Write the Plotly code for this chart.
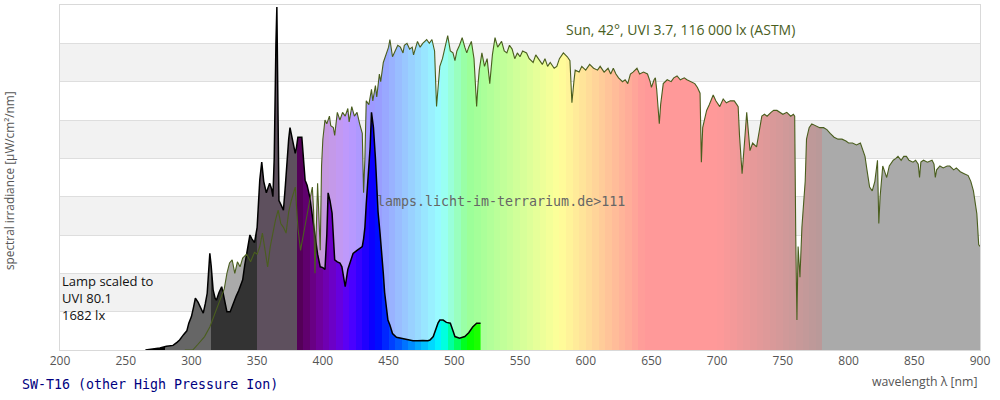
import plotly.graph_objects as go

# ---------------- data (values in band units, 9 bands = full height) ----------------
sun_nm = [295, 301, 305, 310, 314, 318, 322, 325, 327, 329, 331, 333, 335, 337, 339, 342, 345, 348, 350, 352,
          354, 356, 358, 360, 362, 364, 366, 368, 370, 372, 374, 376, 379, 381, 383, 386, 388, 390, 392, 393,
          394, 396, 398, 399, 400, 401.6, 403, 405, 406, 408, 409, 411, 413, 415, 417, 419, 420, 422, 424, 426,
          428, 430, 431, 432, 433, 435, 437, 438, 440, 441, 443, 444, 446, 448, 450, 451, 453, 455, 457, 459,
          461, 462, 464, 466, 468, 469, 471, 472, 474, 476, 479, 481, 483, 485, 486.5, 488, 489, 491, 493, 495,
          497, 499, 500.5, 502, 504, 506, 508, 509.5, 511, 513, 515, 517, 518, 519, 521, 523, 525, 527, 529, 531,
          533, 536, 538, 540, 542, 544, 546, 548, 550, 552, 555, 557, 560, 562, 565, 567, 569, 571, 573, 576,
          578, 580, 583, 586, 588, 589.5, 591, 592, 595, 597, 600, 603, 606, 609, 611, 614, 617, 619, 621, 623,
          625, 628, 630, 632, 634, 636, 639, 641, 644, 647, 649, 650, 652, 653, 654, 656, 657, 659, 662, 665,
          667, 669.5, 672, 675, 677, 680, 683, 685, 687, 688, 689, 690, 692, 694, 697, 699, 702, 704.6, 707, 710,
          713, 715, 716, 717, 719, 721, 722.5, 724, 725, 727, 730, 732, 734, 736, 738, 741, 743, 745.5, 748, 750,
          753, 756, 758, 759, 759.8, 760.7, 761.6, 763, 764.5, 765.5, 767, 768, 770, 772, 775, 778, 781, 783.5, 786, 789,
          792, 795, 798, 800, 803, 806, 809, 811, 812.5, 814, 816, 818, 820, 822, 823, 824, 826, 828, 829, 831,
          834, 836, 837.6, 840, 842, 844, 846, 849, 851, 853, 854, 855, 857, 860, 863.5, 865, 866, 867, 869.5, 872,
          875, 877, 880, 882, 885, 888, 891, 893, 895, 897.6, 899, 900]
sun_val = [0, 0, 0.15, 0.35, 0.6, 0.95, 1.3, 1.6, 2.0, 2.27, 2.35, 2.0, 2.3, 2.17, 2.4, 2.5, 2.3, 2.55, 2.5, 2.7,
           3.05, 2.6, 2.17, 2.7, 3.05, 3.4, 3.65, 3.3, 3.2, 3.05, 3.6, 3.9, 4.25, 3.2, 2.6, 3.2, 3.5, 3.9, 4.25, 3.6,
           2.0, 4.35, 2.6, 4.8, 5.5, 6.0, 5.9, 6.1, 5.85, 5.8, 5.6, 6.2, 6.0, 6.2, 6.1, 6.3, 5.95, 6.35, 6.1, 6.2,
           5.9, 5.65, 4.1, 5.0, 6.5, 6.4, 6.8, 6.5, 6.9, 6.6, 7.2, 7.0, 7.5, 7.7, 7.9, 8.1, 7.65, 7.8, 7.95, 7.9,
           7.75, 7.95, 8.0, 7.85, 7.9, 7.7, 7.95, 8.05, 7.9, 8.0, 8.1, 8.0, 8.1, 7.8, 6.35, 6.9, 7.4, 7.6, 7.9, 8.2,
           7.8, 7.75, 7.55, 7.8, 7.95, 8.15, 7.9, 7.75, 7.9, 8.05, 7.6, 6.35, 6.9, 7.3, 7.75, 7.4, 7.6, 6.95, 7.7, 8.15,
           7.9, 8.05, 7.8, 7.75, 7.95, 7.85, 7.6, 7.75, 7.65, 7.8, 7.75, 7.6, 7.5, 7.7, 7.55, 7.45, 7.6, 7.4, 7.5, 7.35,
           7.4, 7.6, 7.75, 7.65, 7.55, 6.45, 7.0, 7.3, 7.25, 7.4, 7.3, 7.45, 7.35, 7.3, 7.4, 7.25, 7.35, 7.2, 7.35, 7.2,
           7.1, 7.0, 7.05, 6.95, 7.2, 7.25, 7.35, 7.2, 7.25, 7.2, 7.0, 6.85, 7.05, 7.1, 6.8, 5.9, 6.4, 6.95, 7.05, 7.0,
           7.1, 7.15, 7.05, 7.1, 7.05, 7.0, 6.95, 6.85, 6.7, 4.9, 5.8, 5.95, 6.25, 6.4, 6.65, 6.5, 6.35, 6.55, 6.45, 6.5,
           6.5, 6.4, 6.35, 5.6, 4.6, 5.5, 6.2, 5.6, 5.2, 5.4, 5.3, 5.7, 6.1, 6.15, 6.1, 6.2, 6.25, 6.25, 6.2, 6.15,
           6.2, 6.1, 6.15, 6.1, 3.0, 0.78, 2.7, 1.9, 3.2, 3.6, 4.4, 5.5, 5.8, 5.9, 5.85, 5.8, 5.8, 5.75, 5.65, 5.55,
           5.5, 5.5, 5.45, 5.4, 5.4, 5.35, 5.4, 5.2, 5.05, 4.7, 4.25, 4.15, 4.4, 4.95, 3.3, 4.0, 4.8, 4.6, 4.5, 4.8,
           4.95, 5.0, 5.05, 4.95, 5.05, 5.05, 4.95, 4.9, 4.95, 4.85, 4.5, 4.9, 4.95, 4.9, 4.95, 4.85, 4.5, 4.7, 4.8, 4.75,
           4.8, 4.8, 4.7, 4.75, 4.65, 4.6, 4.55, 4.4, 4.15, 3.55, 2.75, 2.7]

lamp_nm = [265, 271, 276, 281, 286, 289, 291, 294, 296.5, 298, 300, 301.5, 303, 305, 306.5, 308, 309, 310.5, 312, 313,
           314, 315, 316.5, 318, 319, 321, 323, 324, 325.5, 327, 329.5, 331.5, 334, 336, 339, 340.5, 342, 343, 344.5, 346,
           348, 350, 352, 353.5, 355, 357, 359.5, 361, 362, 363, 363.6, 364.3, 365, 365.8, 366.6, 368, 370, 371.5, 372.6, 374,
           375, 377, 379, 380, 381, 384, 385, 386.5, 388, 390, 392, 394, 396, 398, 400, 401.6, 403, 404, 405.4, 407,
           408, 409, 411, 413, 414.5, 415.5, 417, 419, 421, 423, 426, 428, 430, 431, 432, 433, 434, 436, 437, 438.5,
           440, 441, 442, 443.5, 445, 446, 447, 448, 449.5, 451, 453, 456, 459, 463, 468.6, 472, 476, 480, 481.5, 484,
           486, 487.6, 489, 491.5, 494, 497, 499, 500.5, 504, 508, 511, 514, 517, 519.6, 520]
lamp_val = [0, 0.02, 0.05, 0.1, 0.12, 0.2, 0.26, 0.4, 0.5, 0.7, 0.87, 1.1, 1.35, 1.25, 1.13, 1.05, 0.96, 1.2, 1.48, 2.0,
            2.52, 2.2, 1.57, 1.35, 1.3, 1.5, 1.65, 1.5, 1.2, 1.0, 1.0, 1.2, 1.4, 1.55, 1.83, 2.2, 2.52, 2.8, 3.0, 2.9,
            2.8, 3.2, 4.43, 4.9, 4.4, 4.1, 4.35, 4.2, 4.0, 5.0, 6.8, 8.0, 8.95, 7.0, 3.9, 3.8, 3.65, 4.3, 4.95, 5.5,
            5.8, 5.5, 5.13, 5.3, 5.55, 5.55, 5.0, 4.43, 4.3, 4.0, 3.5, 2.95, 2.5, 2.17, 2.15, 2.1, 3.0, 4.1, 3.9, 3.57,
            3.0, 2.35, 2.3, 2.27, 2.17, 2.0, 1.65, 2.1, 2.3, 2.52, 2.6, 2.65, 2.7, 2.9, 3.2, 3.8, 4.25, 5.3, 6.2, 5.8,
            5.0, 4.25, 3.6, 3.05, 2.5, 2.0, 1.5, 1.13, 0.78, 0.65, 0.43, 0.33, 0.31, 0.27, 0.24, 0.24, 0.25, 0.24, 0.26, 0.35,
            0.55, 0.7, 0.78, 0.78, 0.72, 0.7, 0.5, 0.35, 0.31, 0.35, 0.45, 0.6, 0.7, 0.7, 0.7]

x_ticks = [200, 250, 300, 350, 400, 450, 500, 550, 600, 650, 700, 750, 800, 850, 900]

sun_label = "Sun, 42°, UVI 3.7, 116 000 lx (ASTM)"
lamp_label = "Lamp scaled to<br>UVI 80.1<br>1682 lx"
watermark = "lamps.licht-im-terrarium.de>111"
lamp_name = "SW-T16 (other High Pressure Ion)"

# ---------------- styling helpers ----------------
X0, X1 = 200, 900
SUN_LINE = "#4a5e1e"


def spectral(w):
    if w < 380 or w > 780:
        return None
    if w < 440:
        r, g, b = -(w - 440) / 60, 0.0, 1.0
    elif w < 490:
        r, g, b = 0.0, (w - 440) / 50, 1.0
    elif w < 510:
        r, g, b = 0.0, 1.0, -(w - 510) / 20
    elif w < 580:
        r, g, b = (w - 510) / 70, 1.0, 0.0
    elif w < 645:
        r, g, b = 1.0, -(w - 645) / 65, 0.0
    else:
        r, g, b = 1.0, 0.0, 0.0
    if w < 420:
        f = 0.3 + 0.7 * (w - 380) / 40
    elif w > 700:
        f = 0.3 + 0.7 * (780 - w) / 80
    else:
        f = 1.0
    return (r * f * 255, g * f * 255, b * f * 255)


def hexc(c):
    return "#%02x%02x%02x" % tuple(int(round(max(0, min(255, v)))) for v in c)


def stepped_scale(bins):
    scale = []
    for a, b, col in bins:
        pa = (a - X0) / (X1 - X0)
        pb = (b - X0) / (X1 - X0)
        scale.append([pa, col])
        scale.append([pb, col])
    scale[0][0] = 0.0
    scale[-1][0] = 1.0
    return scale


step = 5
sun_bins = [(200, 380, "#aaaaaa")]
w = 380
while w < 780:
    c = spectral(w + step / 2)
    sun_bins.append((w, w + step, hexc(tuple(0.4 * v + 0.6 * 255 for v in c))))
    w += step
sun_bins.append((780, 900, "#aaaaaa"))

lamp_bins = [(200, 280, "#000000"), (280, 315, "#666666"), (315, 350, "#333333"), (350, 380, "#5e505e")]
w = 380
while w < 780:
    lamp_bins.append((w, w + step, hexc(spectral(w + step / 2))))
    w += step
lamp_bins.append((780, 900, "#888888"))

fig = go.Figure()

fig.add_trace(go.Scatter(
    x=sun_nm, y=sun_val, mode="lines", line=dict(width=0, color=SUN_LINE),
    fill="tozeroy",
    fillgradient=dict(type="horizontal", colorscale=stepped_scale(sun_bins), start=X0, stop=X1),
    hoverinfo="skip", showlegend=False))

fig.add_trace(go.Scatter(
    x=lamp_nm, y=lamp_val, mode="lines", line=dict(width=1.5, color="#000000"),
    fill="tozeroy",
    fillgradient=dict(type="horizontal", colorscale=stepped_scale(lamp_bins), start=X0, stop=X1),
    hoverinfo="skip", showlegend=False))

fig.add_trace(go.Scatter(
    x=sun_nm, y=sun_val, mode="lines", line=dict(width=1.1, color=SUN_LINE),
    hoverinfo="skip", showlegend=False))

shapes = []
for k in (1, 3, 5, 7):
    shapes.append(dict(type="rect", xref="paper", yref="y", x0=0, x1=1, y0=k, y1=k + 1,
                       fillcolor="#f2f2f2", line=dict(width=0), layer="below"))

FONT = "Open Sans"
PLOT_H = 345.0


def py(ypx):
    return (350 - ypx) / PLOT_H


annotations = [
    dict(text=sun_label, x=(680 - 60) / 920, y=py(30), xref="paper", yref="paper", showarrow=False,
         font=dict(family=FONT, size=14, color=SUN_LINE), xanchor="center", yanchor="middle"),
    dict(text=watermark, x=(501 - 60) / 920, y=py(201), xref="paper", yref="paper", showarrow=False,
         font=dict(family="DejaVu Sans Mono", size=13.3, color="#666666"), xanchor="center", yanchor="middle"),
    dict(text=lamp_name, x=(20 - 60) / 920, y=py(384), xref="paper", yref="paper", showarrow=False,
         font=dict(family="DejaVu Sans Mono", size=13.3, color="#000080"), xanchor="left", yanchor="middle"),
    dict(text="wavelength λ [nm]", x=1.0, y=py(381), xref="paper", yref="paper", showarrow=False,
         font=dict(family=FONT, size=12.3, color="#555555"), xanchor="right", yanchor="middle"),
    dict(text="spectral irradiance [µW/cm²/nm]", x=(9 - 60) / 920, y=py(181), xref="paper", yref="paper",
         showarrow=False, textangle=-90,
         font=dict(family=FONT, size=11.8, color="#555555"), xanchor="center", yanchor="middle"),
    dict(text=lamp_label, x=0.0, y=py(298), xref="paper", yref="paper", showarrow=False, align="left",
         font=dict(family=FONT, size=13, color="#111111"), xanchor="left", yanchor="middle"),
]

fig.update_layout(
    width=1000, height=400,
    margin=dict(l=60, r=20, t=5, b=50),
    paper_bgcolor="white", plot_bgcolor="white",
    shapes=shapes, annotations=annotations,
    xaxis=dict(range=[X0, X1], tickvals=x_ticks, ticktext=[str(t) for t in x_ticks],
               showgrid=False, zeroline=False, showline=True, linecolor="#d9d9d9", mirror=True,
               ticks="", tickfont=dict(family=FONT, size=12, color="#555555")),
    yaxis=dict(range=[0, 9], dtick=1, showgrid=True, gridcolor="#dedede", zeroline=False,
               showline=True, linecolor="#d9d9d9", mirror=True, showticklabels=False, ticks=""),
)

fig.write_html("out.html", config={"displayModeBar": False},
               post_script="document.body.style.margin='0px';")
